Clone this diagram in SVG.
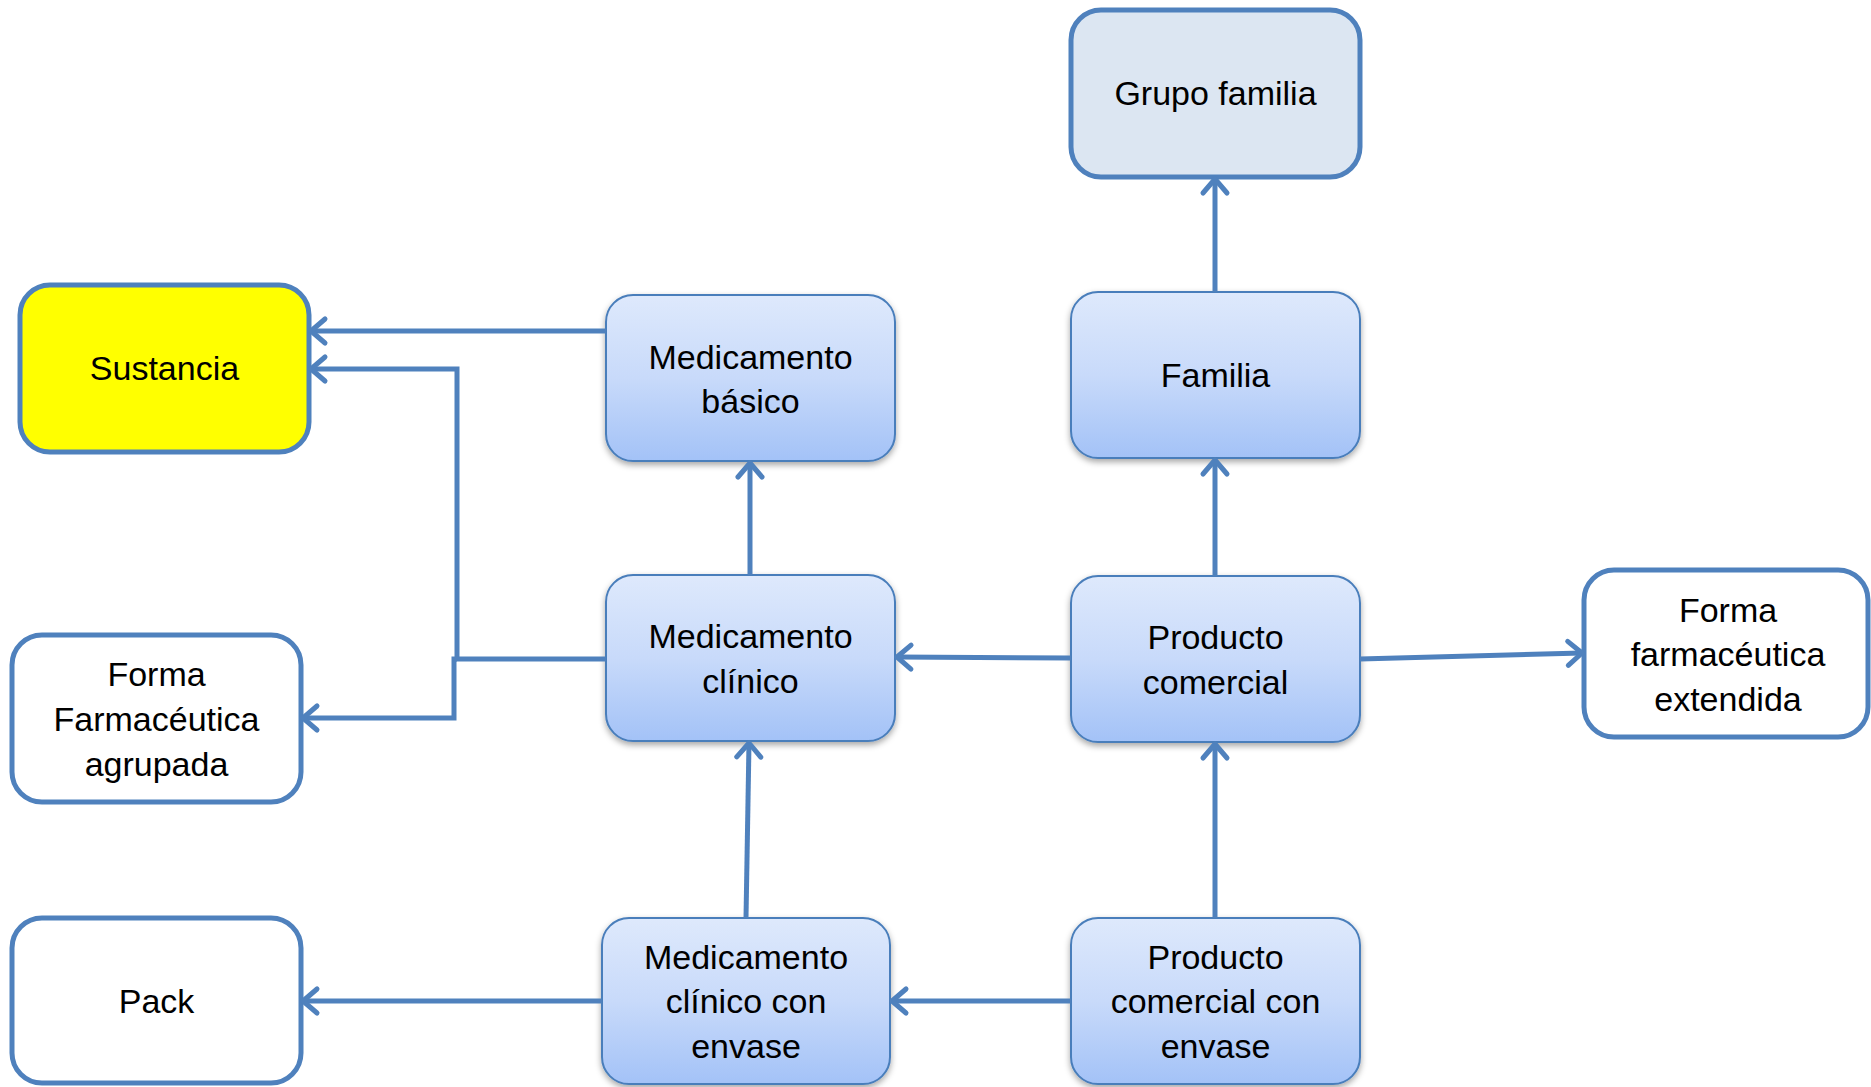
<svg xmlns="http://www.w3.org/2000/svg" width="1871" height="1087" viewBox="0 0 1871 1087">
<style>
.lbl{font-family:"Liberation Sans",Arial,sans-serif;font-size:34px;fill:#000;text-anchor:middle}
.blue{fill:url(#g);stroke:#4A7EBB;stroke-width:2;filter:url(#sh)}
.thick{stroke:#4F81BD;stroke-width:5}
.con{fill:none;stroke:#4F81BD;stroke-width:5;marker-end:url(#arr)}
</style>
<defs>
<linearGradient id="g" x1="0" y1="0" x2="0" y2="1">
<stop offset="0" stop-color="#DEE9FC"/>
<stop offset="0.5" stop-color="#C8DAFA"/>
<stop offset="1" stop-color="#A3C2F7"/>
</linearGradient>
<filter id="sh" x="-10%" y="-10%" width="120%" height="125%">
<feDropShadow dx="0" dy="3" stdDeviation="3" flood-color="#000" flood-opacity="0.35"/>
</filter>
<marker id="arr" markerUnits="userSpaceOnUse" viewBox="-20 -16 26 32" refX="0" refY="0" markerWidth="26" markerHeight="32" orient="auto" overflow="visible">
<path d="M-14,-12 L0,0 L-14,12" fill="none" stroke="#4F81BD" stroke-width="5" stroke-linecap="round" stroke-linejoin="round"/>
</marker>
</defs>
<rect width="1871" height="1087" fill="#fff"/>

<g id="grupo-familia">
<rect class="thick" x="1071" y="10" width="289" height="167" rx="30" fill="#DCE6F2"/>
<text class="lbl" x="1215.5" y="105">Grupo familia</text>
</g>
<g id="familia">
<rect class="blue" x="1071" y="292" width="289" height="166" rx="27"/>
<text class="lbl" x="1215.5" y="387">Familia</text>
</g>
<g id="producto-comercial">
<rect class="blue" x="1071" y="576" width="289" height="166" rx="27"/>
<text class="lbl" x="1215.5" y="649">Producto</text>
<text class="lbl" x="1215.5" y="694">comercial</text>
</g>
<g id="forma-extendida">
<rect class="thick" x="1584" y="570" width="284" height="167" rx="30" fill="#fff"/>
<text class="lbl" x="1728" y="622">Forma</text>
<text class="lbl" x="1728" y="666">farmacéutica</text>
<text class="lbl" x="1728" y="711">extendida</text>
</g>
<g id="medicamento-basico">
<rect class="blue" x="606" y="295" width="289" height="166" rx="27"/>
<text class="lbl" x="750.5" y="369">Medicamento</text>
<text class="lbl" x="750.5" y="413">básico</text>
</g>
<g id="medicamento-clinico">
<rect class="blue" x="606" y="575" width="289" height="166" rx="27"/>
<text class="lbl" x="750.5" y="648">Medicamento</text>
<text class="lbl" x="750.5" y="693">clínico</text>
</g>
<g id="sustancia">
<rect class="thick" x="20" y="285" width="289" height="167" rx="30" fill="#FFFF00"/>
<text class="lbl" x="164.5" y="380">Sustancia</text>
</g>
<g id="forma-agrupada">
<rect class="thick" x="12" y="635" width="289" height="167" rx="30" fill="#fff"/>
<text class="lbl" x="156.5" y="686">Forma</text>
<text class="lbl" x="156.5" y="731">Farmacéutica</text>
<text class="lbl" x="156.5" y="776">agrupada</text>
</g>
<g id="pack">
<rect class="thick" x="12" y="918" width="289" height="165" rx="30" fill="#fff"/>
<text class="lbl" x="156.5" y="1013">Pack</text>
</g>
<g id="medicamento-clinico-envase">
<rect class="blue" x="602" y="918" width="288" height="166" rx="27"/>
<text class="lbl" x="746" y="969">Medicamento</text>
<text class="lbl" x="746" y="1013">clínico con</text>
<text class="lbl" x="746" y="1058">envase</text>
</g>
<g id="producto-comercial-envase">
<rect class="blue" x="1071" y="918" width="289" height="166" rx="27"/>
<text class="lbl" x="1215.5" y="969">Producto</text>
<text class="lbl" x="1215.5" y="1013">comercial con</text>
<text class="lbl" x="1215.5" y="1058">envase</text>
</g>

<g id="connectors">
<path class="con" d="M606,331 L311,331"/>
<path class="con" d="M606,659 L457,659 L457,369 L311,369"/>
<path class="con" d="M457,659 L454,659 L454,718 L303,718"/>
<path class="con" d="M750,575 L750,463"/>
<path class="con" d="M1071,658 L897,657"/>
<path class="con" d="M1215,576 L1215,460"/>
<path class="con" d="M1215,292 L1215,179"/>
<path class="con" d="M1360,659 L1582,653"/>
<path class="con" d="M746,918 L749,743"/>
<path class="con" d="M1215,918 L1215,744"/>
<path class="con" d="M1071,1001 L892,1001"/>
<path class="con" d="M602,1001 L303,1001"/>
</g>
</svg>
